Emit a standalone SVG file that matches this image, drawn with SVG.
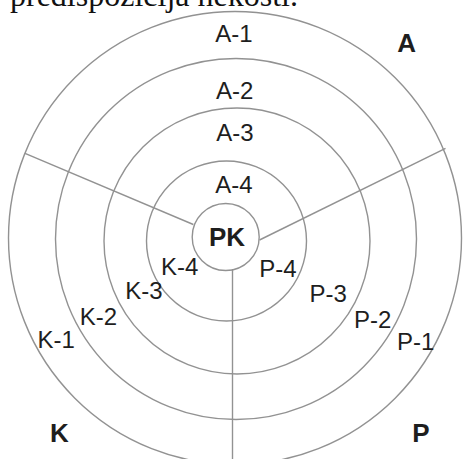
<svg xmlns="http://www.w3.org/2000/svg" width="463" height="459" viewBox="0 0 463 459">
<style>
.ring{fill:none;stroke:#929292;stroke-width:1.4}
.sep{stroke:#929292;stroke-width:1.4;fill:none}
.lbl{font-family:"Liberation Sans",Arial,sans-serif;font-size:24px;fill:#1e1e1e;text-anchor:middle}
.big{font-family:"Liberation Sans",Arial,sans-serif;font-size:26px;font-weight:bold;fill:#1e1e1e;text-anchor:middle}
.cap{font-family:"Liberation Serif","Times New Roman",serif;font-size:32px;fill:#111}
</style>
<rect width="463" height="459" fill="#fff"/>
<text class="cap" x="10" y="5.5">predispozicija nekosti.</text>
<g id="rings">
<circle id="ring1" class="ring" cx="235" cy="238" r="226.5"/>
<circle id="ring2" class="ring" cx="236" cy="239" r="180.5"/>
<circle id="ring3" class="ring" cx="237" cy="241" r="133"/>
<circle id="ring4" class="ring" cx="226.5" cy="241" r="80"/>
</g>
<g id="connectors">
<line class="sep" x1="25" y1="153.3" x2="193.3" y2="224.5"/>
<line class="sep" x1="445.5" y1="148.3" x2="259.5" y2="240"/>
<line class="sep" x1="232.5" y1="269" x2="232.5" y2="459"/>
</g>
<g id="PK">
<circle class="ring" cx="225.7" cy="237" r="33.5" fill="#fff"/>
<text class="big" x="227" y="246">PK</text>
</g>
<g id="A-labels">
<text class="lbl" x="234" y="41.5">A-1</text>
<text class="lbl" x="234.6" y="99">A-2</text>
<text class="lbl" x="235" y="140.7">A-3</text>
<text class="lbl" x="234" y="193.3">A-4</text>
</g>
<g id="K-labels">
<text class="lbl" x="56.3" y="348.3">K-1</text>
<text class="lbl" x="98.5" y="325">K-2</text>
<text class="lbl" x="144" y="299.3">K-3</text>
<text class="lbl" x="179.7" y="275">K-4</text>
</g>
<g id="P-labels">
<text class="lbl" x="415.8" y="350">P-1</text>
<text class="lbl" x="372.8" y="327.7">P-2</text>
<text class="lbl" x="328.3" y="302.3">P-3</text>
<text class="lbl" x="278" y="276.7">P-4</text>
</g>
<g id="corner-labels">
<text class="big" x="406.7" y="51.7">A</text>
<text class="big" x="59.5" y="441.7">K</text>
<text class="big" x="420.8" y="441.7">P</text>
</g>
</svg>
